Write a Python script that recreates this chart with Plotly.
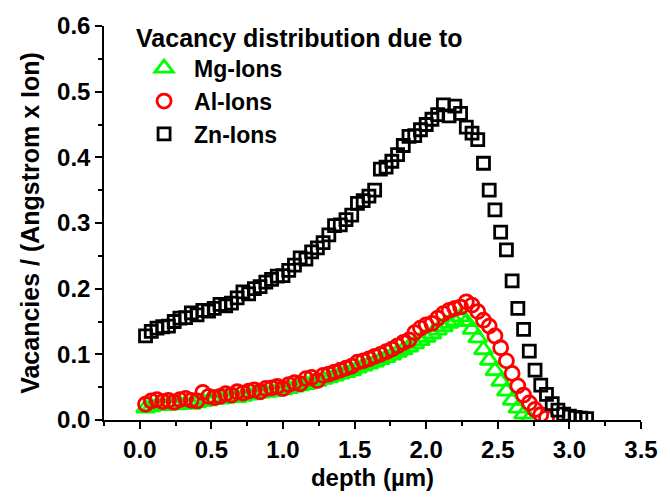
import plotly.graph_objects as go

# Depth grid (µm) and vacancy yields per ion species
zn_depth = [round(0.04 * k, 2) for k in range(1, 79)]
zn_vac = [0.128, 0.135, 0.140, 0.142, 0.143, 0.150, 0.155, 0.156, 0.163, 0.160,
          0.167, 0.166, 0.170, 0.176, 0.174, 0.178, 0.186, 0.195, 0.192, 0.200,
          0.203, 0.210, 0.214, 0.219, 0.220, 0.228, 0.236, 0.247, 0.245, 0.256,
          0.262, 0.270, 0.282, 0.296, 0.297, 0.305, 0.312, 0.330, 0.334, 0.341,
          0.350, 0.382, 0.385, 0.394, 0.404, 0.418, 0.432, 0.433, 0.442, 0.450,
          0.458, 0.465, 0.480, 0.463, 0.478, 0.467, 0.446, 0.437, 0.427, 0.391,
          0.350, 0.320, 0.286, 0.259, 0.212, 0.170, 0.138, 0.105, 0.076, 0.053,
          0.039, 0.025, 0.015, 0.009, 0.006, 0.004, 0.003, 0.002]

al_depth = [round(0.04 * k, 2) for k in range(1, 72)]
al_vac = [0.024, 0.029, 0.031, 0.028, 0.030, 0.027, 0.031, 0.033, 0.030, 0.029,
          0.042, 0.036, 0.034, 0.036, 0.040, 0.038, 0.043, 0.041, 0.044, 0.046,
          0.043, 0.048, 0.049, 0.051, 0.048, 0.054, 0.057, 0.055, 0.063, 0.065,
          0.060, 0.068, 0.070, 0.073, 0.076, 0.079, 0.082, 0.088, 0.090, 0.093,
          0.097, 0.100, 0.104, 0.108, 0.113, 0.118, 0.122, 0.133, 0.140, 0.145,
          0.147, 0.155, 0.162, 0.167, 0.170, 0.172, 0.180, 0.175, 0.165, 0.152,
          0.143, 0.128, 0.110, 0.090, 0.071, 0.052, 0.038, 0.026, 0.016, 0.008,
          0.003]

mg_depth = [round(0.04 * k, 2) for k in range(1, 69)]
mg_vac = [0.018, 0.020, 0.022, 0.022, 0.023, 0.023, 0.024, 0.025, 0.024, 0.026,
          0.028, 0.029, 0.031, 0.032, 0.033, 0.035, 0.034, 0.036, 0.038, 0.039,
          0.041, 0.042, 0.043, 0.045, 0.046, 0.048, 0.050, 0.052, 0.054, 0.057,
          0.059, 0.062, 0.064, 0.067, 0.070, 0.072, 0.075, 0.079, 0.082, 0.085,
          0.088, 0.092, 0.095, 0.099, 0.103, 0.107, 0.111, 0.116, 0.121, 0.126,
          0.131, 0.137, 0.142, 0.147, 0.151, 0.157, 0.150, 0.138, 0.125, 0.107,
          0.091, 0.075, 0.059, 0.044, 0.030, 0.018, 0.009, 0.002]

x_ticks = [0.0, 0.5, 1.0, 1.5, 2.0, 2.5, 3.0, 3.5]
x_tick_text = ["0.0", "0.5", "1.0", "1.5", "2.0", "2.5", "3.0", "3.5"]
y_ticks = [0.0, 0.1, 0.2, 0.3, 0.4, 0.5, 0.6]
y_tick_text = ["0.0", "0.1", "0.2", "0.3", "0.4", "0.5", "0.6"]

FONT = "Liberation Sans"


def bold(size):
    return dict(family=FONT, size=size, color="black", weight="bold")


fig = go.Figure()
fig.add_trace(go.Scatter(
    x=mg_depth, y=mg_vac, mode="markers", name="Mg-Ions",
    marker=dict(symbol="triangle-up-open", size=16, color="#00ff00",
                line=dict(width=2.8, color="#00ff00")),
))
fig.add_trace(go.Scatter(
    x=al_depth, y=al_vac, mode="markers", name="Al-Ions",
    marker=dict(symbol="circle-open", size=14, color="#ff0000",
                line=dict(width=2.8, color="#ff0000")),
))
fig.add_trace(go.Scatter(
    x=zn_depth, y=zn_vac, mode="markers", name="Zn-Ions",
    marker=dict(symbol="square-open", size=12, color="black",
                line=dict(width=2.8, color="black")),
))

axis_common = dict(
    showline=True, linecolor="black", linewidth=1.5,
    ticks="outside", ticklen=7, tickwidth=1.5, tickcolor="black",
    showgrid=False, zeroline=False, tickfont=bold(24),
    ticklabeloverflow="allow",
)

fig.update_layout(
    width=670, height=499,
    margin=dict(l=104, r=16, t=18, b=76),
    paper_bgcolor="white", plot_bgcolor="white",
    showlegend=True,
    legend=dict(
        x=0.056, y=1.03, xanchor="left", yanchor="top",
        font=bold(23), bgcolor="rgba(0,0,0,0)",
        title=dict(text="Vacancy distribution due to", font=bold(25)),
        itemwidth=50, indentation=0,
    ),
    xaxis=dict(
        range=[-0.25, 3.5], tickvals=x_ticks, ticktext=x_tick_text,
        title=dict(text="depth (µm)", font=bold(24), standoff=8),
        minor=dict(ticks="outside", ticklen=4, tickwidth=1.5,
                   tickcolor="black", dtick=0.25, tick0=0),
        **axis_common,
    ),
    yaxis=dict(
        range=[0, 0.6], tickvals=y_ticks, ticktext=y_tick_text,
        title=dict(text="Vacancies / (Angstrom x Ion)", font=bold(25), standoff=10),
        minor=dict(ticks="outside", ticklen=4, tickwidth=1.5,
                   tickcolor="black", dtick=0.05, tick0=0),
        **axis_common,
    ),
)

fig.write_html("out.html")
